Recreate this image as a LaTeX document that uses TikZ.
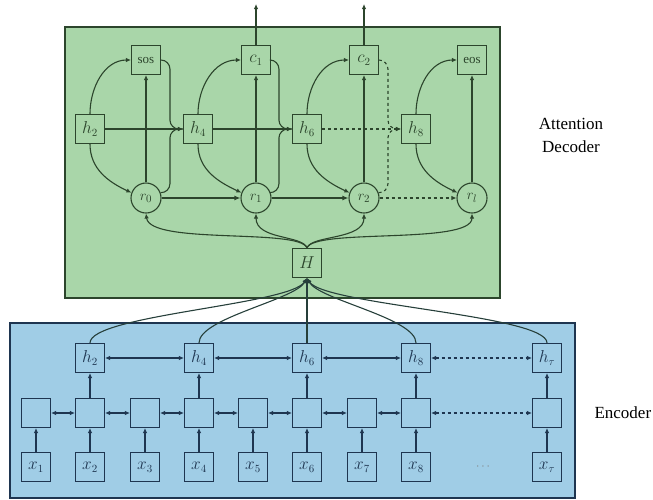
\documentclass[tikz,border=0pt]{standalone}
\usepackage{fontspec}
\setmainfont{Liberation Serif}
\usetikzlibrary{arrows.meta,calc}
\definecolor{decfill}{HTML}{A9D6A9}
\definecolor{encfill}{HTML}{A0CDE6}
\definecolor{decline}{HTML}{2C452C}
\definecolor{encline}{HTML}{1E3550}
\begin{document}
\begin{tikzpicture}[x=1pt,y=-1pt,
  box/.style={draw, minimum size=29pt, inner sep=0pt, line width=1.1pt, font=\fontsize{16}{18}\selectfont},
  circ/.style={draw, circle, minimum size=30pt, inner sep=0pt, line width=1.1pt, font=\fontsize{15}{17}\selectfont},
  arr/.style={-{Latex[length=5pt,width=4.5pt]}, line width=1.1pt},
  darr/.style={{Latex[length=5pt,width=4.5pt]}-{Latex[length=5pt,width=4.5pt]}, line width=1.1pt},
  thick arr/.style={-{Latex[length=6pt,width=5pt]}, line width=1.6pt},
  brace/.style={rounded corners=9pt, line width=1.1pt},
  lab/.style={font=\fontsize{17}{23}\selectfont, align=center}
]
\useasboundingbox (0,0) rectangle (653,499);
% backgrounds
\draw[fill=decfill, draw=decline, line width=1.3pt] (65,27) rectangle (500,298);
\draw[fill=encfill, draw=encline, line width=1.3pt] (10,323) rectangle (575,498);

% ---------------- decoder ----------------
\begin{scope}[draw=decline, color=decline]
\node[box] (h2) at (90,129) {$h_2$};
\node[box] (h4) at (198,129) {$h_4$};
\node[box] (h6) at (307,129) {$h_6$};
\node[box] (h8) at (416,129) {$h_8$};
\node[box, font=\fontsize{13}{15}\selectfont] (sos) at (146,60) {sos};
\node[box] (c1) at (256,60) {$c_1$};
\node[box] (c2) at (364,60) {$c_2$};
\node[box, font=\fontsize{13}{15}\selectfont] (eos) at (472,60) {eos};
\node[circ] (r0) at (146,198) {$r_0$};
\node[circ] (r1) at (256,198) {$r_1$};
\node[circ] (r2) at (364,198) {$r_2$};
\node[circ] (rl) at (472,198) {$r_l$};
\node[box] (H) at (307,263) {$H$};
\coordinate (o1) at (256,4);
\coordinate (o2) at (364,4);

% horizontal h chain
\draw[arr] (h2) -- (h4);
\draw[arr] (h4) -- (h6);
\draw[arr, dashed] (h6) -- (h8);
% r chain
\draw[thick arr] (r0) -- (r1);
\draw[thick arr] (r1) -- (r2);
\draw[arr, dashed] (r2) -- (rl);
% vertical r -> output
\draw[arr] (r0) -- (sos);
\draw[arr] (r1) -- (c1);
\draw[arr] (r2) -- (c2);
\draw[arr] (rl) -- (eos);
% outputs
\draw[arr] (c1) -- (o1);
\draw[arr] (c2) -- (o2);
% h -> upper and lower curves
\foreach \h/\u/\d in {h2/sos/r0, h4/c1/r1, h6/c2/r2, h8/eos/rl}{
  \draw[arr] (\h.north) to[out=90,in=180] (\u.west);
  \draw[arr] (\h.south) to[out=-90,in=155] (\d.160);
}
% braces into next h
\foreach \u/\d/\n in {sos/r0/h4, c1/r1/h6}{
  \draw[brace] (\u.east) -| ([xshift=-13pt]\n.west) -- (\n.west);
  \draw[brace, arr] (\d.20) -| ([xshift=-13pt]\n.west) -- (\n.west);
}
\draw[brace, dashed] (c2.east) -| ([xshift=-13pt]h8.west) -- (h8.west);
\draw[brace, arr, dashed] (r2.20) -| ([xshift=-13pt]h8.west) -- (h8.west);
% H -> r nodes
\draw[arr] (H.north) .. controls (300,228) and (150,245) .. (r0.south);
\draw[arr] (H.north) .. controls (303,235) and (256,240) .. (r1.south);
\draw[arr] (H.north) .. controls (311,235) and (364,240) .. (r2.south);
\draw[arr] (H.north) .. controls (314,228) and (472,245) .. (rl.south);
\end{scope}

% ---------------- encoder ----------------
\begin{scope}[draw=encline, color=encline]
\foreach \i/\x in {1/36,2/90,3/145,4/199,5/253,6/307,7/362,8/416}{
  \node[box] (m\i) at (\x,413) {};
  \node[box] (x\i) at (\x,467) {$x_{\i}$};
  \draw[arr] (x\i) -- (m\i);
}
\node[box] (mT) at (547,413) {};
\node[box] (xT) at (547,467) {$x_\tau$};
\draw[arr] (xT) -- (mT);
\node[font=\fontsize{13}{15}\selectfont, text=gray] (dots) at (483,467) {$\cdots$};
\foreach \a/\b in {m1/m2,m2/m3,m3/m4,m4/m5,m5/m6,m6/m7,m7/m8}{
  \draw[darr] (\a) -- (\b);
}
\draw[darr, dashed] (m8) -- (mT);
\node[box] (e2) at (90,358) {$h_2$};
\node[box] (e4) at (199,358) {$h_4$};
\node[box] (e6) at (307,358) {$h_6$};
\node[box] (e8) at (416,358) {$h_8$};
\node[box] (eT) at (547,358) {$h_\tau$};
\draw[arr] (m2) -- (e2);
\draw[arr] (m4) -- (e4);
\draw[arr] (m6) -- (e6);
\draw[arr] (m8) -- (e8);
\draw[arr] (mT) -- (eT);
\draw[darr] (e2) -- (e4);
\draw[darr] (e4) -- (e6);
\draw[darr] (e6) -- (e8);
\draw[darr, dashed] (e8) -- (eT);
% h -> H
\draw[arr, draw=decline!60!encline] (e2.north) .. controls (90,315) and (290,305) .. (H.south);
\draw[arr, draw=decline!60!encline] (e4.north) .. controls (199,318) and (295,300) .. (H.south);
\draw[arr, draw=decline!60!encline] (e6.north) -- (H.south);
\draw[arr, draw=decline!60!encline] (e8.north) .. controls (416,318) and (319,300) .. (H.south);
\draw[arr, draw=decline!60!encline] (eT.north) .. controls (547,315) and (324,305) .. (H.south);
\end{scope}

% labels
\node[lab] (dlab) at (571,135) {Attention\\Decoder};
\node[lab, anchor=west] (elab) at (591,413) {Encoder};
\end{tikzpicture}
\end{document}
